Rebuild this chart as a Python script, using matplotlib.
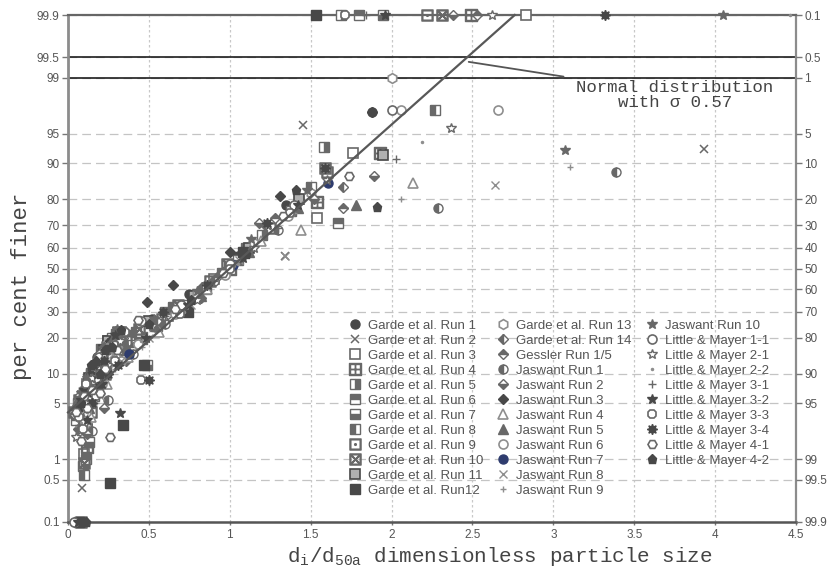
import numpy as np
import matplotlib
matplotlib.use("Agg")
import matplotlib.pyplot as plt
from matplotlib.ticker import FixedLocator, FixedFormatter
from statistics import NormalDist

# ---------------- data ----------------
# normal distribution fitted line
norm_mu = 1.0
norm_sigma = 0.57

y_ticks = [0.1, 0.5, 1, 5, 10, 20, 30, 40, 50, 60, 70, 80, 90, 95, 99, 99.5, 99.9]
x_ticks = [0, 0.5, 1, 1.5, 2, 2.5, 3, 3.5, 4, 4.5]
x_tick_labels = ["0", "0.5", "1", "1.5", "2", "2.5", "3", "3.5", "4", "4.5"]

g1_x = [0.05, 0.07, 0.10, 0.13, 0.16, 0.20, 0.24, 0.30, 0.35, 0.52, 0.75, 1.05, 1.35, 1.88, 0.18, 0.27, 0.11]
g1_p = [0.1, 4.5, 5.5, 8, 10, 13, 15, 19, 21, 27, 38, 56, 78, 97.2, 14, 18, 7]
g2_x = [0.085, 0.05, 0.12, 0.16, 0.20, 0.26, 0.30, 1.34, 1.45, 3.93, 0.09, 0.23]
g2_p = [0.37, 3.5, 5, 8, 11, 14, 17, 56, 96, 92.8, 4.5, 15]
g3_x = [0.10, 0.07, 0.15, 0.19, 0.22, 0.28, 0.40, 0.62, 0.90, 1.54, 1.76, 2.83, 0.12, 0.25, 0.33]
g3_p = [1.2, 3.5, 6, 9, 12, 16, 18, 28, 45, 73, 92, 99.9, 8, 19, 22]
g4_x = [0.12, 0.09, 0.18, 0.23, 0.27, 0.33, 0.45, 0.70, 1.00, 1.54, 1.93, 2.49, 0.15, 0.21, 0.30]
g4_p = [1.5, 5.5, 8, 12, 14, 19, 20, 31, 50, 79, 92, 99.9, 10, 16, 21]
g5_x = [0.09, 0.11, 0.14, 0.17, 0.20, 0.26, 0.33, 0.55, 0.85, 1.20, 1.58, 1.69, 0.07, 0.23, 0.29]
g5_p = [0.8, 6.5, 5, 11, 10, 17, 16, 24, 40, 66, 93, 99.9, 4.2, 14, 20]
g6_x = [0.11, 0.05, 0.17, 0.21, 0.25, 0.31, 0.38, 0.60, 0.95, 1.67, 1.80, 0.08, 0.14, 0.28]
g6_p = [1.0, 3.2, 7, 15, 13, 20, 21, 30, 48, 71, 99.9, 5.5, 10, 17]
g7_x = [0.13, 0.08, 0.15, 0.20, 0.24, 0.30, 0.49, 0.72, 1.05, 1.38, 1.95, 0.11, 0.18, 0.27]
g7_p = [1.7, 4.5, 9.5, 9, 16, 15, 12, 33, 54, 76, 99.9, 6, 12, 20]
g8_x = [0.10, 0.06, 0.13, 0.16, 0.22, 0.26, 0.42, 0.65, 1.10, 1.50, 2.27, 0.09, 0.19, 0.30]
g8_p = [0.6, 5, 7.5, 6, 14, 16, 22, 32, 60, 84, 97.3, 3.8, 11, 19]
g9_x = [0.08, 0.11, 0.14, 0.19, 0.23, 0.29, 0.36, 0.58, 0.88, 1.25, 1.60, 2.22, 0.17, 0.26, 0.33]
g9_p = [0.1, 5, 4, 13, 10, 18, 19, 27, 44, 69, 88, 99.9, 9, 14, 21]
g10_x = [0.10, 0.04, 0.14, 0.18, 0.24, 0.28, 0.44, 0.68, 0.98, 1.59, 2.31, 0.07, 0.21, 0.31]
g10_p = [0.9, 4, 8.5, 10, 17, 18, 23, 33, 52, 89, 99.9, 5.5, 13, 22]
g11_x = [0.12, 0.09, 0.16, 0.19, 0.25, 0.31, 0.50, 0.78, 1.12, 1.43, 1.95, 0.13, 0.22, 0.28]
g11_p = [2.5, 6, 11, 12, 19, 20, 26, 37, 60, 80, 91.7, 9, 16, 18]
g12_x = [0.07, 0.26, 0.12, 0.21, 0.34, 0.47, 0.74, 1.08, 1.53, 0.16, 0.29]
g12_p = [0.1, 0.45, 6, 13, 2.8, 12, 30, 58, 99.9, 9, 18]
g13_x = [0.11, 0.06, 0.15, 0.20, 0.26, 0.32, 0.52, 0.80, 1.15, 1.50, 2.00, 0.09, 0.18, 0.24]
g13_p = [3, 5, 9, 11, 17, 19, 25, 38, 62, 82, 99.0, 7, 13, 18]
g14_x = [0.06, 0.09, 0.13, 0.17, 0.21, 0.27, 0.34, 0.55, 0.83, 1.22, 1.70, 0.11, 0.24, 0.30]
g14_p = [2.5, 4.2, 7, 9.5, 13, 15, 20, 26, 41, 70, 84, 5.5, 17, 16]
ges_x = [0.09, 0.04, 0.12, 0.15, 0.19, 0.25, 0.31, 0.40, 0.62, 0.92, 1.28, 1.70, 2.53, 0.07, 0.17, 0.22]
ges_p = [3, 3.8, 8, 8, 14, 15, 21, 17, 29, 46, 73, 77, 99.9, 4.8, 12, 17]
j1_x = [0.15, 0.10, 0.18, 0.25, 0.29, 0.40, 0.60, 0.90, 1.30, 2.29, 3.39, 0.13, 0.21, 0.33]
j1_p = [2.4, 7, 12, 5.5, 17, 15, 25, 44, 68, 77, 88, 9.5, 14, 20]
j2_x = [0.12, 0.07, 0.16, 0.22, 0.27, 0.36, 0.55, 0.82, 1.18, 1.52, 1.89, 2.38, 0.10, 0.19, 0.31]
j2_p = [2.2, 6, 10, 4.5, 13, 13, 23, 36, 71, 80, 87, 99.9, 5, 15, 18]
j3_x = [0.10, 0.14, 0.18, 0.23, 0.30, 0.49, 0.65, 1.00, 1.31, 1.88, 0.06, 0.12, 0.26]
j3_p = [4, 10, 9, 15, 16, 34, 42, 58, 81, 97.2, 4.5, 7, 19]
j4_x = [0.14, 0.08, 0.20, 0.24, 0.31, 0.37, 0.56, 0.86, 1.19, 1.44, 2.13, 0.11, 0.17, 0.27]
j4_p = [3.5, 4, 7, 8, 14, 14, 22, 40, 63, 68, 85, 5.5, 9, 13]
j5_x = [0.13, 0.05, 0.17, 0.22, 0.28, 0.35, 0.54, 0.82, 1.12, 1.42, 1.78, 0.09, 0.19, 0.25]
j5_p = [4.5, 5, 12, 12, 20, 18, 24, 37, 58, 77, 78, 6, 13, 16]
j6_x = [0.16, 0.11, 0.21, 0.27, 0.33, 0.43, 0.66, 0.97, 1.36, 2.06, 2.66, 0.07, 0.13, 0.24]
j6_p = [7, 4, 8, 14, 13, 18, 29, 47, 74, 97.3, 97.3, 3.5, 6.5, 12]
j7_x = [0.38, 1.02, 1.61]
j7_p = [15, 51.5, 85]
j8_x = [0.20, 0.07, 0.13, 0.24, 0.33, 0.50, 0.76, 1.06, 1.34, 2.64, 0.10, 0.16, 0.28]
j8_p = [6, 3, 5, 11, 13, 20, 33, 54, 56, 84.5, 4.2, 9, 15]
j9_x = [0.17, 0.10, 0.22, 0.29, 0.46, 0.71, 1.03, 1.40, 2.06, 3.10, 0.06, 0.14, 0.26]
j9_p = [5, 3.5, 9, 11, 17, 31, 52, 75, 80, 89.3, 3.2, 6, 10]
j10_x = [0.21, 0.12, 0.17, 0.27, 0.34, 0.53, 0.80, 1.13, 1.48, 3.07, 4.05, 0.08, 0.24, 0.30]
j10_p = [14, 9, 12, 18, 21, 27, 39, 64, 83, 92.6, 99.9, 6.5, 16, 23]
lm11_x = [0.04, 0.09, 0.14, 0.17, 0.22, 0.28, 0.45, 0.70, 1.00, 1.40, 2.00, 0.06, 0.11, 0.19]
lm11_p = [0.1, 3, 8, 9, 11, 18, 26, 33, 52, 78, 97.3, 3.8, 6, 14]
lm21_x = [0.05, 0.11, 0.15, 0.19, 0.25, 0.32, 0.52, 0.80, 1.15, 1.60, 2.37, 2.62, 0.08, 0.13, 0.22]
lm21_p = [2, 5, 9, 11, 12, 19, 24, 35, 60, 86, 95.7, 99.9, 4, 7.5, 15]
lm22_x = [0.08, 0.12, 0.16, 0.21, 0.27, 0.33, 0.45, 0.72, 1.05, 1.45, 2.19, 4.46, 0.05, 0.10, 0.24]
lm22_p = [3, 4, 7, 16, 14, 17, 19, 30, 52, 79, 93.9, 99.9, 3.5, 5.5, 18]
lm31_x = [0.07, 0.10, 0.14, 0.19, 0.24, 0.30, 0.39, 0.60, 0.90, 1.30, 2.03, 1.84, 0.05, 0.17, 0.27]
lm31_p = [2.8, 6, 8, 7, 15, 12, 21, 28, 44, 69, 91, 99.9, 4.5, 11, 19]
lm32_x = [0.06, 0.08, 0.12, 0.16, 0.21, 0.26, 0.32, 0.48, 0.74, 1.08, 1.42, 1.96, 0.10, 0.18, 0.29]
lm32_p = [0.1, 5.5, 3.2, 12, 8, 17, 3.9, 20, 33, 55, 78, 99.9, 7, 10, 21]
lm33_x = [0.09, 0.13, 0.17, 0.23, 0.29, 0.35, 0.45, 0.69, 1.00, 1.37, 1.71, 0.07, 0.11, 0.20]
lm33_p = [2.5, 6, 6, 11, 13, 22, 8.7, 29, 50, 75, 99.9, 3.5, 8, 10]
lm34_x = [0.10, 0.15, 0.19, 0.25, 0.31, 0.50, 0.59, 0.86, 1.23, 1.59, 3.32, 0.07, 0.12, 0.22]
lm34_p = [0.1, 5, 7.5, 10, 12, 8.7, 30, 42, 71, 89, 99.9, 4.5, 6.5, 13]
lm41_x = [0.08, 0.12, 0.15, 0.20, 0.26, 0.30, 0.43, 0.66, 0.96, 1.33, 1.74, 0.05, 0.10, 0.23]
lm41_p = [1.8, 4.5, 7, 6.5, 2, 16, 26.5, 31, 48, 74, 87, 4, 6, 11]
lm42_x = [0.11, 0.14, 0.20, 0.23, 0.33, 0.50, 0.76, 1.10, 1.41, 1.91, 0.08, 0.17, 0.27]
lm42_p = [0.1, 12, 10, 16, 22.7, 25, 35, 57, 83, 77.5, 5, 13, 17]

series = [
    ("Garde et al. Run 1", g1_x, g1_p), ("Garde et al. Run 2", g2_x, g2_p),
    ("Garde et al. Run 3", g3_x, g3_p), ("Garde et al. Run 4", g4_x, g4_p),
    ("Garde et al. Run 5", g5_x, g5_p), ("Garde et al. Run 6", g6_x, g6_p),
    ("Garde et al. Run 7", g7_x, g7_p), ("Garde et al. Run 8", g8_x, g8_p),
    ("Garde et al. Run 9", g9_x, g9_p), ("Garde et al. Run 10", g10_x, g10_p),
    ("Garde et al. Run 11", g11_x, g11_p), ("Garde et al. Run12", g12_x, g12_p),
    ("Garde et al. Run 13", g13_x, g13_p), ("Garde et al. Run 14", g14_x, g14_p),
    ("Gessler Run 1/5", ges_x, ges_p), ("Jaswant Run 1", j1_x, j1_p),
    ("Jaswant Run 2", j2_x, j2_p), ("Jaswant Run 3", j3_x, j3_p),
    ("Jaswant Run 4", j4_x, j4_p), ("Jaswant Run 5", j5_x, j5_p),
    ("Jaswant Run 6", j6_x, j6_p), ("Jaswant Run 7", j7_x, j7_p),
    ("Jaswant Run 8", j8_x, j8_p), ("Jaswant Run 9", j9_x, j9_p),
    ("Jaswant Run 10", j10_x, j10_p), ("Little & Mayer 1-1", lm11_x, lm11_p),
    ("Little & Mayer 2-1", lm21_x, lm21_p), ("Little & Mayer 2-2", lm22_x, lm22_p),
    ("Little & Mayer 3-1", lm31_x, lm31_p), ("Little & Mayer 3-2", lm32_x, lm32_p),
    ("Little & Mayer 3-3", lm33_x, lm33_p), ("Little & Mayer 3-4", lm34_x, lm34_p),
    ("Little & Mayer 4-1", lm41_x, lm41_p), ("Little & Mayer 4-2", lm42_x, lm42_p),
]

# ---------------- styles ----------------
G = "#686868"
DK = "#484848"
LT = "#8e8e8e"
styles = [
    dict(marker="o", mfc=DK, mec=DK, ms=6.5),
    dict(marker="x", mfc=G, mec=G, ms=6, mew=1.1),
    dict(marker="s", mfc="white", mec=G, ms=6.5, mew=1.2),
    dict(marker=r"$\boxplus$", mfc=G, mec=G, ms=8),
    dict(marker="s", fillstyle="right", mfc=G, mec=G, mfcalt="white", ms=6.5),
    dict(marker="s", fillstyle="top", mfc=G, mec=G, mfcalt="white", ms=6.5),
    dict(marker="s", fillstyle="bottom", mfc=G, mec=G, mfcalt="white", ms=6.5),
    dict(marker="s", fillstyle="left", mfc=G, mec=G, mfcalt="white", ms=6.5),
    dict(marker=r"$\boxdot$", mfc=G, mec=G, ms=8),
    dict(marker=r"$\boxtimes$", mfc=G, mec=G, ms=8),
    dict(marker="s", mfc="#b0b0b0", mec=DK, ms=6.5, mew=1.2),
    dict(marker="s", mfc=DK, mec=DK, ms=6.5),
    dict(marker="h", mfc="white", mec=LT, ms=7, mew=1.2),
    dict(marker="D", fillstyle="left", mfc=G, mec=G, mfcalt="white", ms=5.5),
    dict(marker="D", fillstyle="top", mfc=G, mec=G, mfcalt="white", ms=5.5),
    dict(marker="o", fillstyle="left", mfc=G, mec=G, mfcalt="white", ms=6.5),
    dict(marker="D", fillstyle="bottom", mfc=G, mec=G, mfcalt="white", ms=5.5),
    dict(marker="D", mfc=DK, mec=DK, ms=5.5),
    dict(marker="^", mfc="white", mec=LT, ms=6.5, mew=1.2),
    dict(marker="^", mfc=G, mec=G, ms=6.5),
    dict(marker="o", mfc="white", mec=LT, ms=6.5, mew=1.2),
    dict(marker="o", mfc="#2e3c6e", mec="#2e3c6e", ms=6.5),
    dict(marker="x", mfc=LT, mec=LT, ms=6, mew=1.0),
    dict(marker="+", mfc=LT, mec=LT, ms=5, mew=1.0),
    dict(marker="*", mfc=G, mec=G, ms=7),
    dict(marker="o", mfc="white", mec=G, ms=6.5, mew=1.2),
    dict(marker="*", mfc="white", mec=G, ms=7.5),
    dict(marker=".", mfc=LT, mec=LT, ms=3),
    dict(marker="+", mfc=G, mec=G, ms=6, mew=1.0),
    dict(marker="*", mfc=DK, mec=DK, ms=7.5),
    dict(marker="8", mfc="white", mec=G, ms=6.5, mew=1.2),
    dict(marker=(8, 1, 0), mfc=DK, mec=DK, ms=7.5),
    dict(marker="H", mfc="white", mec=G, ms=6.5, mew=1.2),
    dict(marker="p", mfc=DK, mec=DK, ms=6.5),
]

# ---------------- probability scale ----------------
_nd = NormalDist()
_ppf = np.vectorize(_nd.inv_cdf, otypes=[float])
_cdf = np.vectorize(_nd.cdf, otypes=[float])


def fwd(p):
    p = np.clip(np.asarray(p, dtype=float) / 100.0, 1e-9, 1 - 1e-9)
    return _ppf(p)


def inv(z):
    return _cdf(np.asarray(z, dtype=float)) * 100.0


def fmt(v):
    s = ("%.1f" % v)
    return s[:-2] if s.endswith(".0") else s


plt.rcParams["font.family"] = ["Liberation Sans", "DejaVu Sans"]
plt.rcParams["mathtext.fontset"] = "custom"
plt.rcParams["mathtext.rm"] = "Liberation Mono"
plt.rcParams["mathtext.it"] = "Liberation Mono"

fig = plt.figure(figsize=(8.29, 5.8), dpi=100)
ax = fig.add_axes([68 / 829, 58 / 580, 728 / 829, 507 / 580])
ax.set_yscale("function", functions=(fwd, inv))
ax.set_xlim(0, 4.5)
ax.set_ylim(0.1, 99.9)

ax.yaxis.set_major_locator(FixedLocator(y_ticks))
ax.yaxis.set_major_formatter(FixedFormatter([fmt(v) for v in y_ticks]))
ax.yaxis.set_minor_locator(FixedLocator([]))
ax.xaxis.set_major_locator(FixedLocator(x_ticks))
ax.xaxis.set_major_formatter(FixedFormatter(x_tick_labels))

ax.grid(axis="y", color="#c4c4c4", lw=0.9, ls=(0, (7, 4)), zorder=0)
ax.grid(axis="x", color="#c8c8c8", lw=0.9, ls=(0, (2, 2)), zorder=0)

ax.axhline(99.5, color="#1e1e1e", lw=1.2, zorder=2)
ax.axhline(99.0, color="#1e1e1e", lw=1.2, zorder=2)

# data points
for (lab, xs, ps), st in zip(series, styles):
    st = dict(st)
    kw = dict(marker=st.pop("marker"), ms=st.pop("ms"),
              markerfacecolor=st.pop("mfc"), markeredgecolor=st.pop("mec"))
    if "mfcalt" in st:
        kw["markerfacecoloralt"] = st.pop("mfcalt")
    if "fillstyle" in st:
        kw["fillstyle"] = st.pop("fillstyle")
    if "mew" in st:
        kw["markeredgewidth"] = st.pop("mew")
    ax.plot(xs, ps, linestyle="none", label=lab, clip_on=False, zorder=3, **kw)

# normal distribution line
nd_fit = NormalDist(norm_mu, norm_sigma)
x_end = nd_fit.inv_cdf(0.999)
lx = np.linspace(0.0, x_end, 300)
ly = np.array([nd_fit.cdf(v) for v in lx]) * 100
ax.plot(lx, ly, color="#585858", lw=1.6, zorder=4, clip_on=False)

# annotation
ax.annotate("", xy=(2.46, 99.42), xytext=(3.08, 99.02),
            arrowprops=dict(arrowstyle="-", color="#555555", lw=1.3))
ax.text(3.75, 98.93, "Normal distribution\nwith \u03c3 0.57", ha="center", va="top",
        family=["Liberation Mono", "DejaVu Sans Mono"], fontsize=12.5,
        color="#444444", linespacing=1.05)

# spines
for side, c, w in [("left", "#8c8c8c", 2.0), ("bottom", "#555555", 1.8),
                   ("top", "#666666", 1.6), ("right", "#8c8c8c", 1.6)]:
    ax.spines[side].set_color(c)
    ax.spines[side].set_linewidth(w)

ax.tick_params(axis="y", length=4, width=1, color="#777777", labelsize=8.5,
               labelcolor="#555555", pad=2)
ax.tick_params(axis="x", length=2, width=1, color="#777777", labelsize=8.5,
               labelcolor="#555555", pad=3)

# right complementary axis
ax2 = ax.twinx()
ax2.set_yscale("function", functions=(fwd, inv))
ax2.set_ylim(0.1, 99.9)
ax2.yaxis.set_major_locator(FixedLocator(y_ticks))
ax2.yaxis.set_major_formatter(FixedFormatter([fmt(100 - v) for v in y_ticks]))
ax2.yaxis.set_minor_locator(FixedLocator([]))
ax2.tick_params(axis="y", length=4, width=1, color="#777777", labelsize=8.5,
                labelcolor="#555555", pad=2)
for s in ax2.spines.values():
    s.set_visible(False)

# legend (3 columns: 12, 12, 10)
handles, labels = ax.get_legend_handles_labels()
blank = plt.Line2D([], [], linestyle="none", marker="none")
handles = handles + [blank, blank]
labels = labels + ["", ""]
leg = ax.legend(handles, labels, ncol=3, loc="upper left",
                bbox_to_anchor=(0.385, 0.399), frameon=False, fontsize=9.5,
                labelspacing=0.21, handlelength=1.0, handletextpad=0.5,
                columnspacing=1.0, borderaxespad=0, borderpad=0,
                labelcolor="#555555")

# axis labels
fig.text(22 / 829, 1 - 286 / 580, "per cent finer", rotation=90, ha="center",
         va="center", family=["Liberation Mono", "DejaVu Sans Mono"],
         fontsize=16, color="#444444")
fig.text(500 / 829, 1 - 556 / 580,
         r"d$_{\rm i}$/d$_{\rm 50a}$ dimensionless particle size",
         ha="center", va="center", family=["Liberation Mono", "DejaVu Sans Mono"],
         fontsize=15, color="#444444")

fig.savefig("out.png", dpi=100)
